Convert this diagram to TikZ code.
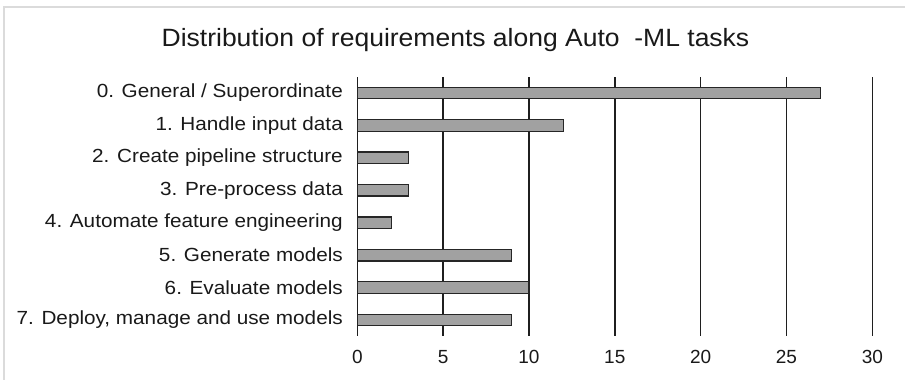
\documentclass[tikz,border=0pt]{standalone}
\usepackage{fontspec}
\setmainfont{Liberation Sans}
\begin{document}
\begin{tikzpicture}[x=1pt,y=-1pt,
  frame/.style={draw=black!14,line width=2pt},
  grid/.style={draw=black!88,line width=1.4pt},
  bar/.style={draw=black!85,fill=black!37,line width=1.2pt},
  cat/.style={anchor=east,inner sep=0pt,font=\fontsize{19}{21}\selectfont,text=black!90},
  tick/.style={anchor=base,inner sep=0pt,font=\fontsize{19}{21}\selectfont,text=black!90},
  ttl/.style={anchor=base,inner sep=0pt,font=\fontsize{25}{28}\selectfont,text=black!90}]
\useasboundingbox (0,0) rectangle (905,380);
\fill[white] (0,0) rectangle (905,380);
\draw[frame] (3.5,380) -- (3.5,6.5) -- (905,6.5);
\node[ttl] (title) at (455.5,46) {\scalebox{1.06}[1]{Distribution of requirements along Auto\ \ -ML tasks}};
% gridlines
\foreach \v in {0,5,...,30}{
  \coordinate (gt\v) at ({357.3+17.167*\v},77);
  \coordinate (gb\v) at ({357.3+17.167*\v},336);
  \draw[grid] (gt\v) -- (gb\v);
  \node[tick] (t\v) at ({357.3+17.167*\v},363) {\v};
}
% bars
\foreach \i/\val/\lab in {0/27/{0. General / Superordinate},1/12/{1. Handle input data},2/3/{2. Create pipeline structure},3/3/{3. Pre-process data},4/2/{4. Automate feature engineering},5/9/{5. Generate models},6/10/{6. Evaluate models},7/9/{7. Deploy, manage and use models}}{
  \draw[bar] (357.3,{92.9+32.45*\i-5.8}) rectangle ({357.3+17.167*\val},{92.9+32.45*\i+5.8});
  \node[cat] (c\i) at (343,{92.9+32.45*\i}) {\scalebox{1.09}[1]{\lab}};
}
\end{tikzpicture}
\end{document}
